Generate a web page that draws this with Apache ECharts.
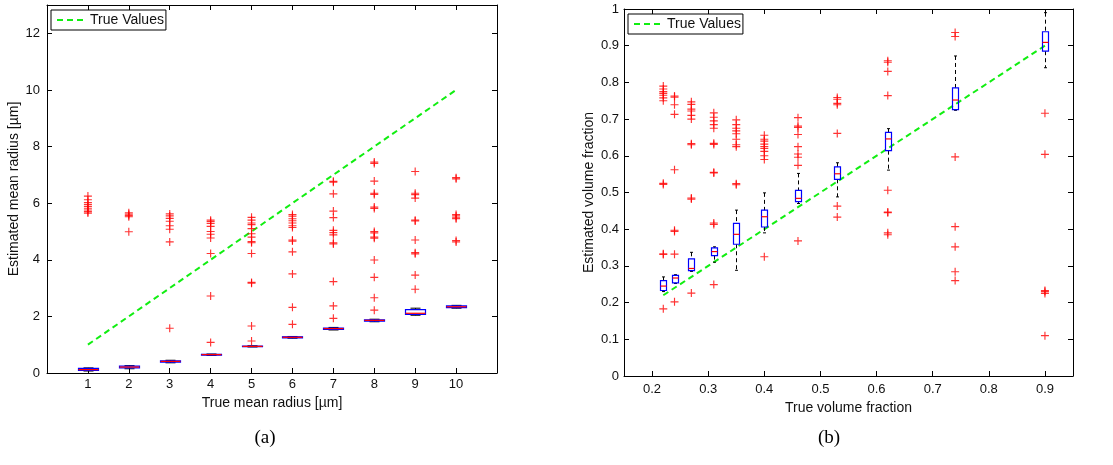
<!DOCTYPE html>
<html>
<head>
<meta charset="utf-8">
<script src="https://cdn.jsdelivr.net/npm/echarts@6/dist/echarts.min.js"></script>
<style>
html,body{margin:0;padding:0;background:#fff;}
#chart{width:1113px;height:465px;}
</style>
</head>
<body>
<div id="chart"></div>
<script>
// ---------- Data: panel (a) ----------
const leftX = [1, 2, 3, 4, 5, 6, 7, 8, 9, 10];
// [lower whisker, Q1, median, Q3, upper whisker]
const leftStats = [
  [0.07, 0.09, 0.12, 0.16, 0.18],
  [0.15, 0.18, 0.21, 0.24, 0.26],
  [0.36, 0.38, 0.41, 0.43, 0.45],
  [0.62, 0.63, 0.65, 0.66, 0.67],
  [0.92, 0.93, 0.94, 0.95, 0.96],
  [1.23, 1.24, 1.26, 1.28, 1.29],
  [1.52, 1.54, 1.57, 1.59, 1.61],
  [1.81, 1.83, 1.86, 1.88, 1.90],
  [2.04, 2.07, 2.11, 2.24, 2.29],
  [2.29, 2.31, 2.34, 2.37, 2.39]
];
const leftOutliers = [
  [6.25, 6.12, 6.02, 5.95, 5.88, 5.82, 5.76, 5.7, 5.65],
  [5.66, 5.61, 5.56, 5.52, 4.99],
  [5.62, 5.55, 5.46, 5.36, 5.2, 5.08, 4.63, 1.58],
  [5.4, 5.35, 5.28, 5.18, 5.0, 4.9, 4.77, 4.22, 2.72, 1.08],
  [5.5, 5.4, 5.3, 5.24, 5.1, 4.92, 4.8, 4.64, 4.6, 4.22, 3.2, 3.17, 1.66, 1.13],
  [5.6, 5.54, 5.45, 5.38, 5.3, 5.2, 5.14, 4.7, 4.66, 4.28, 3.5, 2.32, 1.72],
  [6.77, 6.74, 6.33, 5.72, 5.49, 5.04, 4.96, 4.88, 4.6, 4.56, 3.23, 2.37, 1.93],
  [7.45, 7.4, 6.78, 6.35, 6.31, 5.86, 5.81, 5.0, 4.95, 4.8, 4.76, 3.99, 3.38, 2.66, 2.22],
  [7.12, 6.35, 6.3, 6.18, 5.4, 5.37, 4.7, 4.25, 4.21, 3.46, 2.96],
  [6.9, 6.86, 5.6, 5.55, 5.48, 5.45, 4.68, 4.63]
];
const leftTrue = [[1, 1], [10, 10]];
const leftXTicks = [1, 2, 3, 4, 5, 6, 7, 8, 9, 10];
const leftYTicks = [0, 2, 4, 6, 8, 10, 12];

// ---------- Data: panel (b) ----------
const rightX = [0.22, 0.24, 0.27, 0.31, 0.35, 0.40, 0.46, 0.53, 0.62, 0.74, 0.90];
const rightStats = [
  [0.230, 0.233, 0.245, 0.260, 0.270],
  [0.252, 0.254, 0.267, 0.274, 0.276],
  [0.285, 0.287, 0.293, 0.319, 0.337],
  [0.310, 0.328, 0.339, 0.349, 0.352],
  [0.288, 0.359, 0.386, 0.416, 0.452],
  [0.390, 0.406, 0.434, 0.452, 0.499],
  [0.470, 0.475, 0.484, 0.506, 0.552],
  [0.488, 0.536, 0.551, 0.570, 0.581],
  [0.561, 0.614, 0.646, 0.664, 0.674],
  [0.724, 0.726, 0.752, 0.785, 0.872],
  [0.840, 0.885, 0.909, 0.938, 0.990]
];
const rightOutliers = [
  [0.79, 0.782, 0.775, 0.77, 0.765, 0.758, 0.75, 0.525, 0.522, 0.333, 0.331, 0.183],
  [0.763, 0.76, 0.739, 0.713, 0.562, 0.397, 0.394, 0.332, 0.202],
  [0.747, 0.74, 0.727, 0.722, 0.71, 0.70, 0.633, 0.63, 0.485, 0.482, 0.226],
  [0.717, 0.705, 0.695, 0.685, 0.675, 0.634, 0.631, 0.555, 0.553, 0.417, 0.413, 0.249],
  [0.698, 0.685, 0.675, 0.668, 0.66, 0.645, 0.63, 0.625, 0.524, 0.521],
  [0.656, 0.645, 0.64, 0.632, 0.625, 0.62, 0.612, 0.60, 0.59, 0.325],
  [0.704, 0.681, 0.677, 0.658, 0.625, 0.605, 0.596, 0.574, 0.368],
  [0.759, 0.754, 0.743, 0.739, 0.661, 0.463, 0.433],
  [0.859, 0.855, 0.83, 0.764, 0.506, 0.447, 0.445, 0.39, 0.385],
  [0.936, 0.925, 0.597, 0.407, 0.352, 0.284, 0.26],
  [0.716, 0.604, 0.233, 0.23, 0.225, 0.11]
];
const rightTrue = [[0.22, 0.22], [0.90, 0.90]];
const rightXTicks = [0.2, 0.3, 0.4, 0.5, 0.6, 0.7, 0.8, 0.9];
const rightYTicks = [0, 0.1, 0.2, 0.3, 0.4, 0.5, 0.6, 0.7, 0.8, 0.9, 1];

// ---------- Helpers ----------
const PLUS = 'path://M0,3h3v-3h1v3h3v1h-3v3h-1v-3h-3z';
const FONT = 'Liberation Sans';
const TXT = '#111';
const GREEN = '#11ee11';

function boxData(xs, stats) {
  return xs.map((x, i) => [x].concat(stats[i]));
}
function outlierData(xs, outs) {
  const res = [];
  xs.forEach((x, i) => outs[i].forEach(v => res.push([x, v])));
  return res;
}
function boxRender(boxW, capW) {
  return function (params, api) {
    const x = api.value(0);
    const lo = api.coord([x, api.value(1)]);
    const q1 = api.coord([x, api.value(2)]);
    const md = api.coord([x, api.value(3)]);
    const q3 = api.coord([x, api.value(4)]);
    const hi = api.coord([x, api.value(5)]);
    const cx = Math.round(lo[0]) + 0.5;
    const dash = { stroke: '#000', lineWidth: 1, lineDash: [4, 3] };
    const solid = { stroke: '#000', lineWidth: 1 };
    return {
      type: 'group',
      children: [
        { type: 'line', shape: { x1: cx, y1: hi[1], x2: cx, y2: q3[1] }, style: dash },
        { type: 'line', shape: { x1: cx, y1: q1[1], x2: cx, y2: lo[1] }, style: dash },
        { type: 'line', shape: { x1: cx - capW / 2, y1: hi[1], x2: cx + capW / 2, y2: hi[1] }, style: solid },
        { type: 'line', shape: { x1: cx - capW / 2, y1: lo[1], x2: cx + capW / 2, y2: lo[1] }, style: solid },
        { type: 'rect', shape: { x: cx - boxW / 2, y: q3[1], width: boxW, height: q1[1] - q3[1] },
          style: { fill: 'none', stroke: '#0000ff', lineWidth: 1.2 } },
        { type: 'line', shape: { x1: cx - boxW / 2, y1: md[1], x2: cx + boxW / 2, y2: md[1] },
          style: { stroke: '#ff0000', lineWidth: 1.2 } }
      ]
    };
  };
}
function mainX(grid, min, max, ticks, name, labelMargin, nameGap) {
  return {
    type: 'value', gridIndex: grid, position: 'bottom', min: min, max: max,
    splitLine: { show: false },
    axisLine: { onZero: false, lineStyle: { color: '#000', width: 1 } },
    axisTick: { inside: true, length: 5, customValues: ticks, lineStyle: { color: '#000' } },
    axisLabel: { customValues: ticks, margin: labelMargin, color: TXT, fontFamily: FONT, fontSize: 13 },
    name: name, nameLocation: 'middle', nameGap: nameGap,
    nameTextStyle: { color: TXT, fontFamily: FONT, fontSize: 14 }
  };
}
function mirrorX(grid, min, max, ticks) {
  return {
    type: 'value', gridIndex: grid, position: 'top', min: min, max: max,
    splitLine: { show: false },
    axisLine: { onZero: false, lineStyle: { color: '#000', width: 1 } },
    axisTick: { inside: true, length: 5, customValues: ticks, lineStyle: { color: '#000' } },
    axisLabel: { show: false }
  };
}
function mainY(grid, min, max, ticks, name, labelMargin, nameGap) {
  return {
    type: 'value', gridIndex: grid, position: 'left', min: min, max: max,
    splitLine: { show: false },
    axisLine: { onZero: false, lineStyle: { color: '#000', width: 1 } },
    axisTick: { inside: true, length: 5, customValues: ticks, lineStyle: { color: '#000' } },
    axisLabel: { customValues: ticks, margin: labelMargin, color: TXT, fontFamily: FONT, fontSize: 13 },
    name: name, nameLocation: 'middle', nameGap: nameGap, nameRotate: 90,
    nameTextStyle: { color: TXT, fontFamily: FONT, fontSize: 14 }
  };
}
function mirrorY(grid, min, max, ticks) {
  return {
    type: 'value', gridIndex: grid, position: 'right', min: min, max: max,
    splitLine: { show: false },
    axisLine: { onZero: false, lineStyle: { color: '#000', width: 1 } },
    axisTick: { inside: true, length: 5, customValues: ticks, lineStyle: { color: '#000' } },
    axisLabel: { show: false }
  };
}
const legendBase = {
  data: ['True Values'], orient: 'horizontal',
  backgroundColor: '#fff', borderColor: '#000', borderWidth: 1, borderRadius: 0,
  padding: [3, 2, 3, 5], itemWidth: 28, itemHeight: 14, selectedMode: false,
  itemStyle: { opacity: 0 },
  lineStyle: { color: GREEN, width: 2, type: [6, 4], opacity: 1 },
  textStyle: { color: TXT, fontFamily: FONT, fontSize: 14 }
};

const chart = echarts.init(document.getElementById('chart'));
chart.setOption({
  animation: false,
  backgroundColor: '#fff',
  grid: [
    { left: 47, top: 5, width: 450, height: 368, containLabel: false },
    { left: 624, top: 9, width: 449, height: 367, containLabel: false }
  ],
  legend: [
    Object.assign({}, legendBase, { left: 51, top: 10 }),
    Object.assign({}, legendBase, { left: 628, top: 14 })
  ],
  xAxis: [
    mainX(0, 0, 11, leftXTicks, 'True mean radius [µm]', 5, 17),
    mirrorX(0, 0, 11, leftXTicks),
    mainX(1, 0.15, 0.95, rightXTicks, 'True volume fraction', 7, 15),
    mirrorX(1, 0.15, 0.95, rightXTicks)
  ],
  yAxis: [
    mainY(0, 0, 13, leftYTicks, 'Estimated mean radius [µm]', 7, 25),
    mirrorY(0, 0, 13, leftYTicks),
    mainY(1, 0, 1, rightYTicks, 'Estimated volume fraction', 5, 28),
    mirrorY(1, 0, 1, rightYTicks)
  ],
  graphic: [
    { type: 'text', x: 265, y: 438, style: { text: '(a)', align: 'center', verticalAlign: 'middle', font: '19px "Liberation Serif"', fill: '#000' } },
    { type: 'text', x: 829, y: 438, style: { text: '(b)', align: 'center', verticalAlign: 'middle', font: '19px "Liberation Serif"', fill: '#000' } }
  ],
  series: [
    {
      type: 'custom', name: 'boxA', xAxisIndex: 0, yAxisIndex: 0,
      renderItem: boxRender(20, 10), data: boxData(leftX, leftStats),
      encode: { x: 0, y: [1, 2, 3, 4, 5] }, z: 3
    },
    {
      type: 'scatter', name: 'outA', xAxisIndex: 0, yAxisIndex: 0,
      symbol: PLUS, symbolSize: 8, itemStyle: { color: '#ff0000' },
      data: outlierData(leftX, leftOutliers), z: 4
    },
    {
      type: 'line', name: 'True Values', xAxisIndex: 0, yAxisIndex: 0,
      data: leftTrue, symbol: 'none', showSymbol: false,
      lineStyle: { color: GREEN, width: 2, type: [6, 4] },
      itemStyle: { color: GREEN }, z: 2
    },
    {
      type: 'custom', name: 'boxB', xAxisIndex: 2, yAxisIndex: 2,
      renderItem: boxRender(6, 3), data: boxData(rightX, rightStats),
      encode: { x: 0, y: [1, 2, 3, 4, 5] }, z: 3
    },
    {
      type: 'scatter', name: 'outB', xAxisIndex: 2, yAxisIndex: 2,
      symbol: PLUS, symbolSize: 8, itemStyle: { color: '#ff0000' },
      data: outlierData(rightX, rightOutliers), z: 4
    },
    {
      type: 'line', name: 'True Values', xAxisIndex: 2, yAxisIndex: 2,
      data: rightTrue, symbol: 'none', showSymbol: false,
      lineStyle: { color: GREEN, width: 2, type: [6, 4] },
      itemStyle: { color: GREEN }, z: 2
    }
  ]
});
</script>
</body>
</html>
